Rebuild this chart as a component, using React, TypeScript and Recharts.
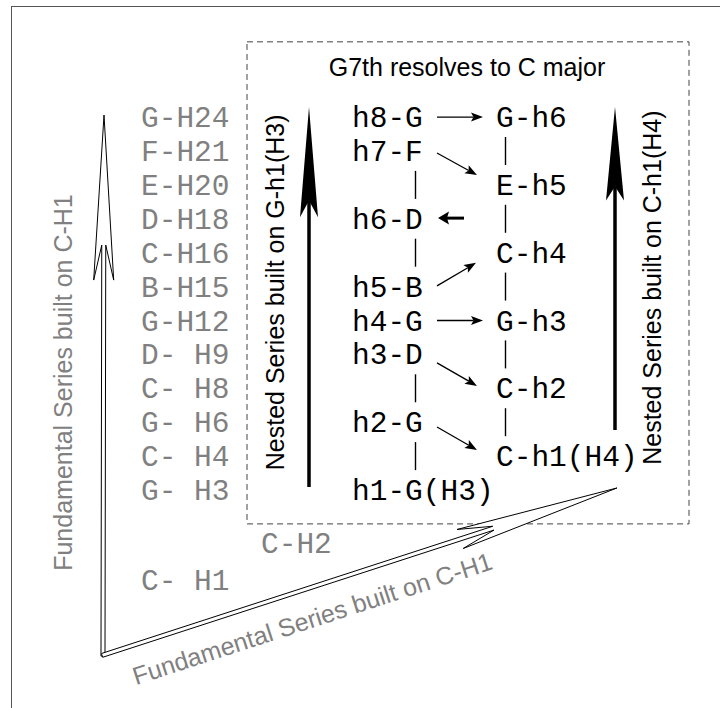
import React from 'react';
import {
  ScatterChart,
  Scatter,
  XAxis,
  YAxis,
  ReferenceLine,
  ReferenceArea,
  ReferenceDot,
} from 'recharts';

// Canvas and row layout: x is in pixels, y is in "rows" (row 1 sits at 490px, 33.9px per row)
const W = 720;
const H = 708;
const ROW1_PX = 490;
const ROW_PX = 33.9;
const Y_MIN = 1 + (ROW1_PX - H) / ROW_PX;
const Y_MAX = 1 + ROW1_PX / ROW_PX;

// Fundamental series built on C-H1 (grey column)
const fundamentalLabels = ['G-H24', 'F-H21', 'E-H20', 'D-H18', 'C-H16', 'B-H15', 'G-H12', 'D- H9', 'C- H8', 'G- H6', 'C- H4', 'G- H3'];
const fundamentalRows = [12, 11, 10, 9, 8, 7, 6, 5, 4, 3, 2, 1];
const lowLabels = ['C-H2', 'C- H1'];
const lowRows = [-0.56, -1.65];
const lowCols = [261, 141];

// Nested series on G-h1(H3)
const gLabels = ['h8-G', 'h7-F', 'h6-D', 'h5-B', 'h4-G', 'h3-D', 'h2-G', 'h1-G(H3)'];
const gRows = [12, 11, 9, 7, 6, 5, 3, 1];
const gBarRows = [10, 8, 4, 2];

// Nested series on C-h1(H4)
const cLabels = ['G-h6', 'E-h5', 'C-h4', 'G-h3', 'C-h2', 'C-h1(H4)'];
const cRows = [12, 10, 8, 6, 4, 2];
const cBarRows = [11, 9, 7, 5, 3];

// resolution arrows between the two nested series
const moveFromX = [437, 437, 464, 437, 437, 437, 437];
const moveFromRow = [12, 10.94, 9.02, 7.02, 6, 4.75, 2.86];
const moveToX = [483, 477, 438, 476, 483, 477, 477];
const moveToRow = [12, 10.29, 9.02, 7.7, 6, 4.07, 2.18];
const moveHeavy = [false, false, true, false, false, false, false];

const COL_LEFT = 141;
const COL_MID = 352;
const COL_RIGHT = 496;
const BAR_MID = 415.5;
const BAR_RIGHT = 505.5;

const MONO = "'Liberation Mono', 'Courier New', monospace";
const SANS = "'Liberation Sans', Arial, Helvetica, sans-serif";
const GREY = '#808080';

const leftData = fundamentalLabels.map((label, i) => ({ x: COL_LEFT, y: fundamentalRows[i], label }));
const lowData = lowLabels.map((label, i) => ({ x: lowCols[i], y: lowRows[i], label }));
const gData = gLabels.map((label, i) => ({ x: COL_MID, y: gRows[i], label }));
const cData = cLabels.map((label, i) => ({ x: COL_RIGHT, y: cRows[i], label }));
const barData = [
  ...gBarRows.map((y) => ({ x: BAR_MID, y })),
  ...cBarRows.map((y) => ({ x: BAR_RIGHT, y })),
];

const monoText = (fill: string) => (p: any) => (
  <text
    x={p.cx}
    y={p.cy}
    dy="0.34em"
    fill={fill}
    fontFamily={MONO}
    fontSize={29.5}
    textAnchor="start"
    style={{ whiteSpace: 'pre' }}
  >
    {p.payload.label}
  </text>
);

// the "|" links between notes of one series
const barShape = (p: any) => (
  <line x1={p.cx} y1={p.cy - 14} x2={p.cx} y2={p.cy + 14} stroke="#000" strokeWidth={1.4} />
);

const sansText = (text: string, fill: string, angle: number) => (p: any) => (
  <text
    x={p.cx}
    y={p.cy}
    fill={fill}
    fontFamily={SANS}
    fontSize={25}
    textAnchor="middle"
    transform={angle ? `rotate(${angle} ${p.cx} ${p.cy})` : undefined}
  >
    {text}
  </text>
);

// arrow geometry helper: points measured back from the tip (d) and sideways (s)
const geom = (x1: number, y1: number, x2: number, y2: number) => {
  const dx = x2 - x1;
  const dy = y2 - y1;
  const len = Math.hypot(dx, dy) || 1;
  const ux = dx / len;
  const uy = dy / len;
  const at = (d: number, s: number) => `${x2 - ux * d - uy * s},${y2 - uy * d + ux * s}`;
  const pt = (d: number) => [x2 - ux * d, y2 - uy * d];
  return { len, at, pt };
};

const hollowArrow = (p: any) => {
  const g = geom(p.x1, p.y1, p.x2, p.y2);
  const pts = [
    `${p.x2},${p.y2}`,
    g.at(165, 10),
    g.at(130, 2),
    g.at(g.len + 1, 2),
    g.at(g.len + 1, -2),
    g.at(130, -2),
    g.at(165, -10),
  ].join(' ');
  return <polygon points={pts} fill="#fff" stroke="#000" strokeWidth={1} strokeLinejoin="miter" />;
};

const bigArrow = (p: any) => {
  const g = geom(p.x1, p.y1, p.x2, p.y2);
  const L = g.len * 0.29;
  const [nx, ny] = g.pt(L * 0.85);
  const pts = [`${p.x2},${p.y2}`, g.at(L, 9), g.at(L * 0.85, 0), g.at(L, -9)].join(' ');
  return (
    <g>
      <line x1={p.x1} y1={p.y1} x2={nx} y2={ny} stroke="#000" strokeWidth={3.5} />
      <polygon points={pts} fill="#000" />
    </g>
  );
};

const smallArrow = (heavy: boolean) => (p: any) => {
  const g = geom(p.x1, p.y1, p.x2, p.y2);
  const len = heavy ? 11 : 12;
  const half = heavy ? 6.5 : 4.5;
  const notch = heavy ? 9 : 9.5;
  const [nx, ny] = g.pt(notch);
  const pts = [`${p.x2},${p.y2}`, g.at(len, half), g.at(notch, 0), g.at(len, -half)].join(' ');
  return (
    <g>
      <line x1={p.x1} y1={p.y1} x2={nx} y2={ny} stroke="#000" strokeWidth={heavy ? 3 : 1.3} />
      <polygon points={pts} fill="#000" />
    </g>
  );
};

export default function App() {
  return (
    <div style={{ position: 'fixed', left: 0, top: 0, width: W, height: H, overflow: 'hidden', background: '#fff' }}>
      <div
        style={{
          position: 'absolute',
          left: 11,
          top: 6,
          right: -20,
          bottom: -20,
          borderLeft: '1px solid #555',
          borderTop: '1px solid #555',
        }}
      />
      <div style={{ position: 'absolute', left: 0, top: 0 }}>
        <ScatterChart width={W} height={H} margin={{ top: 0, right: 0, bottom: 0, left: 0 }}>
          <XAxis type="number" dataKey="x" domain={[0, W]} allowDataOverflow hide />
          <YAxis type="number" dataKey="y" domain={[Y_MIN, Y_MAX]} allowDataOverflow hide />

          {/* dashed frame around the resolution */}
          <ReferenceArea
            x1={247}
            x2={689}
            y1={0}
            y2={14.22}
            fill="none"
            fillOpacity={0}
            stroke="#444"
            strokeDasharray="6 4"
            strokeWidth={1}
            ifOverflow="visible"
          />

          {/* fundamental series hollow arrows */}
          <ReferenceLine segment={[{ x: 103, y: -3.87 }, { x: 104, y: 12.06 }]} shape={hollowArrow} ifOverflow="visible" />
          <ReferenceLine segment={[{ x: 103, y: -3.87 }, { x: 617, y: 1.06 }]} shape={hollowArrow} ifOverflow="visible" />

          {/* nested series arrows */}
          <ReferenceLine segment={[{ x: 309, y: 1.09 }, { x: 309, y: 12.3 }]} shape={bigArrow} ifOverflow="visible" />
          <ReferenceLine segment={[{ x: 615, y: 2.77 }, { x: 615, y: 12.3 }]} shape={bigArrow} ifOverflow="visible" />

          {moveFromX.map((fx, i) => (
            <ReferenceLine
              key={`mv${i}`}
              segment={[{ x: fx, y: moveFromRow[i] }, { x: moveToX[i], y: moveToRow[i] }]}
              shape={smallArrow(moveHeavy[i])}
              ifOverflow="visible"
            />
          ))}

          <Scatter data={leftData} shape={monoText(GREY)} isAnimationActive={false} />
          <Scatter data={lowData} shape={monoText(GREY)} isAnimationActive={false} />
          <Scatter data={gData} shape={monoText('#000')} isAnimationActive={false} />
          <Scatter data={cData} shape={monoText('#000')} isAnimationActive={false} />
          <Scatter data={barData} shape={barShape} isAnimationActive={false} />

          <ReferenceDot x={467} y={13.21} shape={sansText('G7th resolves to C major', '#000', 0)} ifOverflow="visible" />
          <ReferenceDot x={284} y={6.83} shape={sansText('Nested Series built on G-h1(H3)', '#000', -90)} ifOverflow="visible" />
          <ReferenceDot x={661} y={6.97} shape={sansText('Nested Series built on C-h1(H4)', '#000', -90)} ifOverflow="visible" />
          <ReferenceDot x={72} y={4.17} shape={sansText('Fundamental Series built on C-H1', GREY, -90)} ifOverflow="visible" />
          <ReferenceDot x={315} y={-3.04} shape={sansText('Fundamental Series built on C-H1', GREY, -18)} ifOverflow="visible" />
        </ScatterChart>
      </div>
    </div>
  );
}
